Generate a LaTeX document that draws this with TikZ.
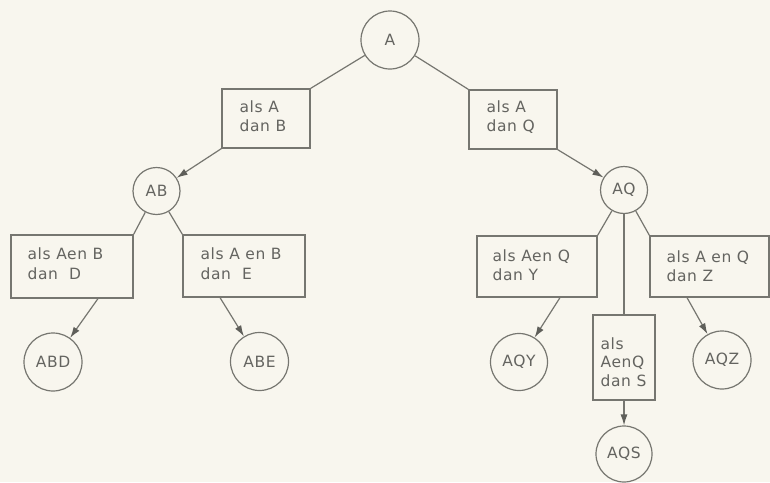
\documentclass[tikz,border=0pt]{standalone}
\usepackage{fontspec}
\setmainfont[LetterSpace=4]{DejaVu Sans}
\usetikzlibrary{arrows.meta}
\definecolor{bg}{RGB}{248,246,238}
\definecolor{ln}{RGB}{118,118,112}
\definecolor{tx}{RGB}{100,100,96}
\definecolor{tip}{RGB}{95,95,90}
\begin{document}
\begin{tikzpicture}[x=1pt,y=-1pt,
  every node/.style={font=\fontsize{15.5}{19.5}\selectfont, text=tx},
  circ/.style={draw=ln, line width=1.2pt, circle, inner sep=0pt, minimum size=58pt},
  smallcirc/.style={circ, minimum size=47pt},
  box/.style={draw=ln, line width=1.2pt, rectangle, inner sep=0pt},
  txt/.style={align=left, inner sep=0pt, anchor=west},
  link/.style={draw=ln, line width=1.2pt},
  arr/.style={link, -{Latex[length=11pt,width=7pt,color=tip]}}]
\fill[bg] (0,0) rectangle (770,482);
\useasboundingbox (0,0) rectangle (770,482);
% top
\node[circ] (A) at (390,40) {A};
\node[box, minimum width=88pt, minimum height=59pt] (bB) at (266,118.5) {};
\node[txt] (tB) at ([xshift=18pt,yshift=2.5pt]bB.west) {als A\\dan B};
\node[box, minimum width=88pt, minimum height=59pt] (bQ) at (513,119.5) {};
\node[txt] (tQ) at ([xshift=18pt,yshift=2.5pt]bQ.west) {als A\\dan Q};
\node[smallcirc] (AB) at (156.5,191) {AB};
\node[smallcirc] (AQ) at (624,190) {AQ};
% left subtree
\node[box, minimum width=122pt, minimum height=63pt] (bD) at (72,266.5) {};
\node[txt] (tD) at ([xshift=17pt,yshift=3pt]bD.west) {als Aen B\\dan \ D};
\node[box, minimum width=122pt, minimum height=62pt] (bE) at (244,266) {};
\node[txt] (tE) at ([xshift=18pt,yshift=2.5pt]bE.west) {als A en B\\dan \ E};
\node[circ] (ABD) at (53,362) {ABD};
\node[circ] (ABE) at (259.5,361.5) {ABE};
% right subtree
\node[box, minimum width=120pt, minimum height=61pt] (bY) at (537,266.5) {};
\node[txt] (tY) at ([xshift=16pt,yshift=1.5pt]bY.west) {als Aen Q\\dan Y};
\node[box, minimum width=119pt, minimum height=61pt] (bZ) at (709.5,266.5) {};
\node[txt] (tZ) at ([xshift=17pt,yshift=0.5pt]bZ.west) {als A en Q\\dan Z};
\node[box, minimum width=62pt, minimum height=85pt] (bS) at (624,357.5) {};
\node[txt, font=\fontsize{15.5}{18.5}\selectfont] (tS) at ([xshift=8pt,yshift=-4.5pt]bS.west) {als\\AenQ\\dan S};
\node[circ, minimum size=57pt] (AQY) at (519,362) {AQY};
\node[circ] (AQZ) at (722,360) {AQZ};
\node[circ, minimum size=56pt] (AQS) at (624,454) {AQS};
% arrow start points
\coordinate (d1) at ([xshift=26pt]bD.south);
\coordinate (e1) at ([xshift=-24pt]bE.south);
\coordinate (y1) at ([xshift=23pt]bY.south);
\coordinate (z1) at ([xshift=-22.5pt]bZ.south);
% connectors
\draw[link] (A) -- (bB.north east);
\draw[link] (A) -- (bQ.north west);
\draw[arr] (bB.south west) -- (AB);
\draw[arr] (bQ.south east) -- (AQ);
\draw[link] (AB) -- (bD.north east);
\draw[link] (AB) -- (bE.north west);
\draw[arr] (d1) -- (ABD);
\draw[arr] (e1) -- (ABE);
\draw[link] (AQ) -- (bY.north east);
\draw[link] (AQ) -- (bZ.north west);
\draw[link] (AQ) -- (bS.north);
\draw[arr] (y1) -- (AQY);
\draw[arr] (z1) -- (AQZ);
\draw[arr] (bS.south) -- (AQS);
\end{tikzpicture}
\end{document}
